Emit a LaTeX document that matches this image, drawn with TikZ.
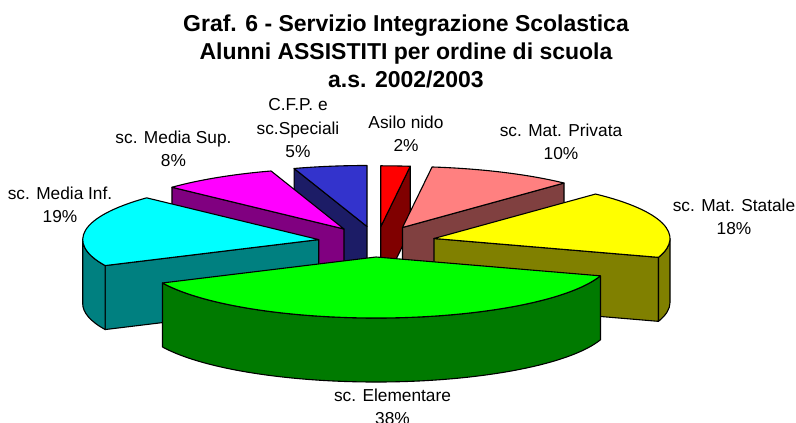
\documentclass[tikz,border=0pt]{standalone}
\usepackage{fontspec}
\setmainfont{Liberation Sans}
\usepackage{xcolor}
\usepackage{tikz}

\definecolor{asilotop}{HTML}{FF0000}
\definecolor{asilodark}{HTML}{800000}
\definecolor{privtop}{HTML}{FF8080}
\definecolor{privdark}{HTML}{804040}
\definecolor{stattop}{HTML}{FFFF00}
\definecolor{statdark}{HTML}{808000}
\definecolor{elemtop}{HTML}{00FF00}
\definecolor{elemdark}{HTML}{007A00}
\definecolor{inftop}{HTML}{00FFFF}
\definecolor{infdark}{HTML}{008080}
\definecolor{suptop}{HTML}{FF00FF}
\definecolor{supdark}{HTML}{800080}
\definecolor{cfptop}{HTML}{3333CC}
\definecolor{cfpdark}{HTML}{1C1C66}

\tikzset{
  face/.style={draw=black, line width=1.1pt, line join=round},
  rim/.style={x radius=236, y radius=61},
  lbl/.style={font=\fontsize{17.3}{23.5}\selectfont, align=center, anchor=base},
  ttl/.style={font=\fontsize{23}{27.8}\selectfont\bfseries, align=center, anchor=base},
}

% top of a slice: apex, from angle, to angle, colour
\newcommand{\slicetop}[4]{%
  \draw[face, fill=#4] (#1) -- ++(#2:236 and 61) arc[rim, start angle=#2, end angle=#3] -- cycle;}
% straight side of a slice: apex, angle, colour
\newcommand{\sliceside}[3]{%
  \draw[face, fill=#3] (#1) ++(0,-64) -- ++(#2:236 and 61) -- ++(0,64) -- (#1) -- cycle;}
% round side of a slice: apex, from angle, to angle, colour
\newcommand{\sliceround}[4]{%
  \draw[face, fill=#4] (#1) ++(#2:236 and 61) arc[rim, start angle=#2, end angle=#3]
    -- ++(0,-64) arc[rim, start angle=#3, end angle=#2] -- cycle;}

\begin{document}
\begin{tikzpicture}[x=1pt,y=1pt]
  \useasboundingbox (0,0) rectangle (796,423);

  % apex of every exploded slice
  \coordinate (cfp) at (367,196.5);
  \coordinate (asilo) at (380.7,196.2);
  \coordinate (priv) at (402.5,195.5);
  \coordinate (sup) at (344,194);
  \coordinate (stat) at (434,184.5);
  \coordinate (inf) at (318.7,183.4);
  \coordinate (elem) at (376,166);

  % C.F.P. e sc.Speciali
  \sliceside{cfp}{108}{cfpdark}
  \slicetop{cfp}{108}{90}{cfptop}
  % Asilo nido
  \sliceside{asilo}{82.8}{asilodark}
  \slicetop{asilo}{90}{82.8}{asilotop}
  % sc. Mat. Privata
  \sliceside{priv}{46.8}{privdark}
  \slicetop{priv}{82.8}{46.8}{privtop}
  % sc. Media Sup.
  \sliceside{sup}{136.8}{supdark}
  \slicetop{sup}{136.8}{108}{suptop}
  % sc. Mat. Statale
  \sliceside{stat}{-18}{statdark}
  \sliceround{stat}{-18}{0}{statdark}
  \slicetop{stat}{46.8}{-18}{stattop}
  % sc. Media Inf.
  \sliceside{inf}{205.2}{infdark}
  \sliceround{inf}{180}{205.2}{infdark}
  \slicetop{inf}{205.2}{136.8}{inftop}
  % sc. Elementare
  \sliceround{elem}{205.2}{342}{elemdark}
  \slicetop{elem}{-18}{-154.8}{elemtop}

  % title (anchor is the base of the last line)
  \node[ttl] (title) at (406,335.7) {Graf. 6 - Servizio Integrazione Scolastica\\
    Alunni ASSISTITI per ordine di scuola\\ a.s. 2002/2003};

  % labels
  \node[lbl] (lcfp) at (298,265) {C.F.P. e\\ sc.Speciali\\ 5\%};
  \node[lbl] (lasilo) at (406,271) {Asilo nido\\ 2\%};
  \node[lbl] (lpriv) at (561,263) {sc. Mat. Privata\\ 10\%};
  \node[lbl] (lstat) at (734,188) {sc. Mat. Statale\\ 18\%};
  \node[lbl] (lelem) at (392.5,-2) {sc. Elementare\\ 38\%};
  \node[lbl] (linf) at (60,200) {sc. Media Inf.\\ 19\%};
  \node[lbl] (lsup) at (173.5,256) {sc. Media Sup.\\ 8\%};
\end{tikzpicture}
\end{document}
